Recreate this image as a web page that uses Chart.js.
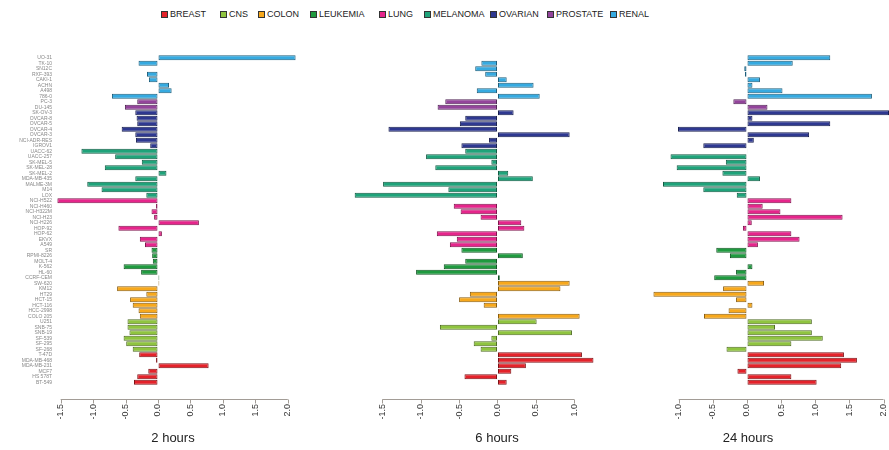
<!DOCTYPE html>
<html>
<head>
<meta charset="utf-8">
<script src="https://cdn.jsdelivr.net/npm/chart.js@4.4.1/dist/chart.umd.min.js"></script>
<style>
html,body{margin:0;padding:0;background:#fff;}
body{width:889px;height:450px;position:relative;overflow:hidden;font-family:"Liberation Sans",Arial,sans-serif;}
.cw{position:absolute;top:0;height:450px;}
.li{position:absolute;top:9px;height:10px;line-height:10px;font-size:9px;color:#222;white-space:nowrap;}
.sw{position:absolute;top:1.5px;width:5px;height:5px;border:1px solid #333;}
.pt{position:absolute;top:430px;font-size:13px;color:#222;transform:translateX(-50%);white-space:nowrap;}
</style>
</head>
<body>
<div id="legend"></div>
<div class="cw" style="left:0;width:300px;"><canvas id="c1"></canvas></div>
<div class="cw" style="left:340px;width:270px;"><canvas id="c2"></canvas></div>
<div class="cw" style="left:640px;width:249px;"><canvas id="c3"></canvas></div>
<div class="pt" style="left:173px;">2 hours</div>
<div class="pt" style="left:497px;">6 hours</div>
<div class="pt" style="left:748px;">24 hours</div>
<script>
// ---------- DATA ----------
const panels = ['BREAST','CNS','COLON','LEUKEMIA','LUNG','MELANOMA','OVARIAN','PROSTATE','RENAL'];

const cellLines = ['UO-31','TK-10','SN12C','RXF-393','CAKI-1','ACHN','A498','786-0',
 'PC-3','DU-145',
 'SK-OV-3','OVCAR-8','OVCAR-5','OVCAR-4','OVCAR-3','NCI-ADR-RES','IGROV1',
 'UACC-62','UACC-257','SK-MEL-5','SK-MEL-28','SK-MEL-2','MDA-MB-435','MALME-3M','M14','LOX',
 'NCI-H522','NCI-H460','NCI-H322M','NCI-H23','NCI-H226','HOP-92','HOP-62','EKVX','A549',
 'SR','RPMI-8226','MOLT-4','K-562','HL-60','CCRF-CEM',
 'SW-620','KM12','HT29','HCT-15','HCT-116','HCC-2998','COLO 205',
 'U251','SNB-75','SNB-19','SF-539','SF-295','SF-268',
 'T-47D','MDA-MB-468','MDA-MB-231','MCF7','HS 578T','BT-549'];

const cellPanel = ['RENAL','RENAL','RENAL','RENAL','RENAL','RENAL','RENAL','RENAL',
 'PROSTATE','PROSTATE',
 'OVARIAN','OVARIAN','OVARIAN','OVARIAN','OVARIAN','OVARIAN','OVARIAN',
 'MELANOMA','MELANOMA','MELANOMA','MELANOMA','MELANOMA','MELANOMA','MELANOMA','MELANOMA','MELANOMA',
 'LUNG','LUNG','LUNG','LUNG','LUNG','LUNG','LUNG','LUNG','LUNG',
 'LEUKEMIA','LEUKEMIA','LEUKEMIA','LEUKEMIA','LEUKEMIA','LEUKEMIA',
 'COLON','COLON','COLON','COLON','COLON','COLON','COLON',
 'CNS','CNS','CNS','CNS','CNS','CNS',
 'BREAST','BREAST','BREAST','BREAST','BREAST','BREAST'];

const values2h = [2.12,-0.30,0.00,-0.17,-0.14,0.17,0.21,-0.71,
 -0.32,-0.51,
 -0.35,-0.33,-0.32,-0.56,-0.35,-0.34,-0.12,
 -1.18,-0.66,-0.25,-0.82,0.13,-0.35,-1.09,-0.87,-0.18,
 -1.55,-0.03,-0.10,-0.06,0.63,-0.61,0.06,-0.28,-0.20,
 -0.10,-0.09,-0.08,-0.53,-0.26,0.02,
 0.02,-0.63,-0.18,-0.43,-0.39,-0.30,-0.28,
 -0.47,-0.47,-0.44,-0.53,-0.49,-0.39,
 -0.29,-0.03,0.78,-0.15,-0.32,-0.37];

const values6h = [0.00,-0.21,-0.29,-0.16,0.12,0.47,-0.27,0.55,
 -0.68,-0.78,
 0.21,-0.42,-0.49,-1.42,0.94,-0.11,-0.47,
 -0.42,-0.93,-0.08,-0.81,0.14,0.46,-1.49,-0.64,-1.86,
 0.00,-0.57,-0.48,-0.22,0.31,0.35,-0.79,-0.53,-0.62,
 -0.47,0.33,-0.42,-0.70,-1.06,0.03,
 0.94,0.82,-0.36,-0.50,-0.18,0.01,1.07,
 0.51,-0.75,0.97,-0.08,-0.31,-0.22,
 1.10,1.25,0.37,0.18,-0.43,0.12];

const values24h = [1.22,0.67,-0.04,-0.03,0.19,0.08,0.52,1.83,
 -0.20,0.30,
 2.08,0.08,1.22,-1.01,0.91,0.10,-0.64,
 0.01,-1.12,-0.31,-1.03,-0.36,0.19,-1.23,-0.64,-0.15,
 0.65,0.23,0.49,1.40,0.07,-0.06,0.65,0.77,0.16,
 -0.45,-0.25,0.00,0.08,-0.16,-0.48,
 0.25,-0.35,-1.37,-0.16,0.08,-0.27,-0.63,
 0.95,0.41,0.95,1.11,0.65,-0.30,
 1.42,1.61,1.38,-0.14,0.65,1.02];

const ticks2h  = [-1.5,-1.0,-0.5,0.0,0.5,1.0,1.5,2.0];
const ticks6h  = [-1.5,-1.0,-0.5,0.0,0.5,1.0];
const ticks24h = [-1.0,-0.5,0.0,0.5,1.0,1.5,2.0];

// ---------- STYLE ----------
const panelColors = {
  BREAST:'#e4222a', CNS:'#8fc43f', COLON:'#f7a81c', LEUKEMIA:'#1f9a3f', LUNG:'#e5258b',
  MELANOMA:'#1fa37a', OVARIAN:'#2e3890', PROSTATE:'#93449b', RENAL:'#36aae0'
};
function darker(hex, f){
  const n = parseInt(hex.slice(1),16);
  const r = Math.round(((n>>16)&255)*f), g = Math.round(((n>>8)&255)*f), b = Math.round((n&255)*f);
  return 'rgb('+r+','+g+','+b+')';
}
const fills = cellPanel.map(p => panelColors[p]);
const borders = cellPanel.map(p => darker(panelColors[p], 0.55));

// legend
const legendX = {BREAST:161,CNS:220,COLON:258,LEUKEMIA:310,LUNG:379,MELANOMA:424,OVARIAN:490,PROSTATE:547,RENAL:610};
const lg = document.getElementById('legend');
panels.forEach(p => {
  const d = document.createElement('div');
  d.className = 'li';
  d.style.left = legendX[p] + 'px';
  d.style.paddingLeft = '9px';
  const s = document.createElement('span');
  s.className = 'sw';
  s.style.left = '0px';
  s.style.background = panelColors[p];
  d.appendChild(s);
  d.appendChild(document.createTextNode(p));
  lg.appendChild(d);
});

const axisLine = {
  id: 'axisLine',
  afterDraw(chart){
    const xs = chart.scales.x, ctx = chart.ctx;
    const vals = xs.ticks.map(t => t.value);
    const y = Math.round(chart.chartArea.bottom + 14) + 0.5;
    ctx.save();
    ctx.strokeStyle = '#a29c96';
    ctx.lineWidth = 1;
    ctx.beginPath();
    ctx.moveTo(xs.getPixelForValue(vals[0]), y);
    ctx.lineTo(xs.getPixelForValue(vals[vals.length-1]), y);
    vals.forEach(v => {
      const px = Math.round(xs.getPixelForValue(v)) + 0.5;
      ctx.moveTo(px, y); ctx.lineTo(px, y + 4);
    });
    ctx.stroke();
    ctx.restore();
  }
};

function makeChart(id, values, tickVals, min, max, padL, padR, showY){
  return new Chart(document.getElementById(id), {
    type: 'bar',
    data: {
      labels: cellLines,
      datasets: [{
        data: values,
        backgroundColor: fills,
        borderColor: borders,
        borderWidth: 1,
        borderSkipped: false,
        barPercentage: 0.92,
        categoryPercentage: 1.0
      }]
    },
    options: {
      indexAxis: 'y',
      responsive: true,
      maintainAspectRatio: false,
      animation: false,
      layout: { padding: { left: padL, right: padR, top: 55, bottom: 0 } },
      plugins: { legend: { display: false }, tooltip: { enabled: false } },
      scales: {
        x: {
          type: 'linear',
          min: min, max: max,
          grid: { display: true, drawOnChartArea: false, drawTicks: true, tickLength: 16, color: 'rgba(0,0,0,0)' },
          border: { display: false },
          afterBuildTicks: s => { s.ticks = tickVals.map(v => ({ value: v })); },
          afterFit: s => { s.height = 65; s.paddingLeft = 0; s.paddingRight = 0; },
          ticks: {
            autoSkip: false, minRotation: 90, maxRotation: 90, padding: 3,
            color: '#333', font: { family: '"Liberation Sans", Arial, sans-serif', size: 9 },
            callback: v => Number(v).toFixed(1)
          }
        },
        y: {
          display: showY,
          grid: { display: false, drawTicks: false },
          border: { display: false },
          afterFit: s => { if (showY) { s.width = 55; } s.paddingTop = 0; s.paddingBottom = 0; },
          ticks: {
            autoSkip: false, padding: 3, color: '#888',
            font: { family: '"Liberation Sans", Arial, sans-serif', size: 5 }
          }
        }
      }
    },
    plugins: [axisLine]
  });
}

makeChart('c1', values2h, ticks2h, -1.587, 2.157, 0, 2, true);
makeChart('c2', values6h, ticks6h, -1.9, 1.3, 11.6, 12.7, false);
makeChart('c3', values24h, ticks24h, -1.4, 2.08, 11.4, 0, false);
</script>
</body>
</html>
